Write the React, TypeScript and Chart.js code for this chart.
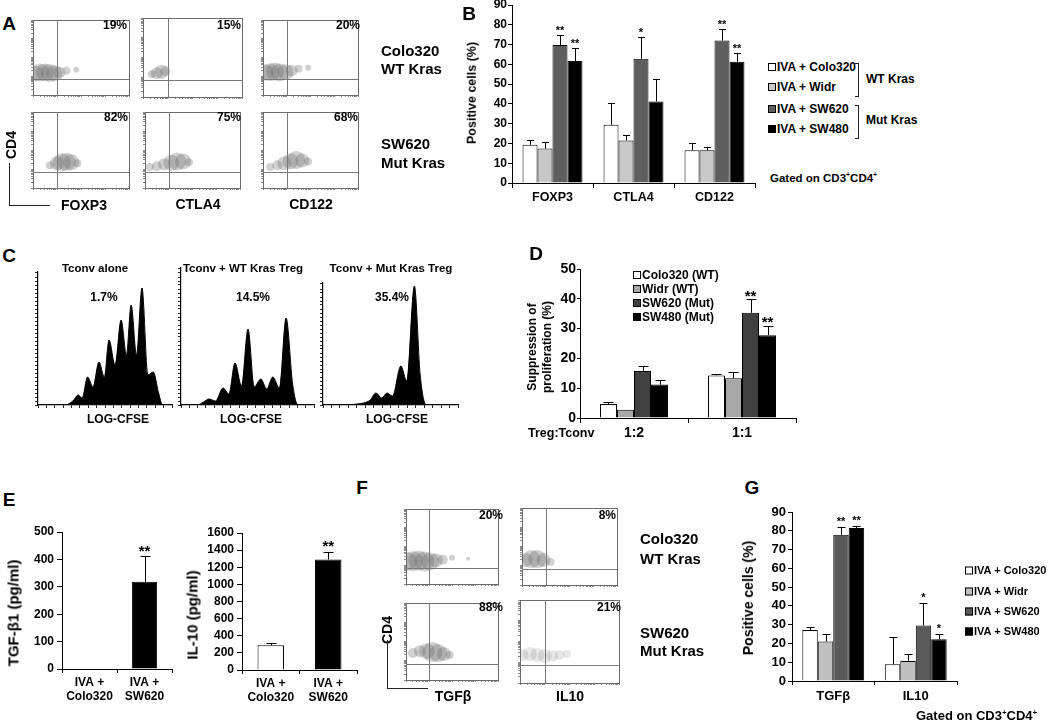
import React, { useEffect, useRef } from "react";
import { Chart, registerables } from "chart.js";
Chart.register(...registerables);

const FONT = '"Liberation Sans", Arial, Helvetica, sans-serif';
const PAD = 12;

/* ---------------- Panel A / F : flow clouds  [x decade, y decade, spread px] ---------------- */
const flowGate = [1.0, 0.85];
const aFoxp3Wt = [[0.1, 1.15, 8], [0.3, 1.2, 9], [0.5, 1.2, 9], [0.7, 1.18, 9], [0.9, 1.15, 8], [1.1, 1.2, 6], [1.4, 1.3, 4], [1.8, 1.35, 3]];
const aCtla4Wt = [[0.35, 1.15, 4], [0.55, 1.2, 6], [0.75, 1.28, 7], [0.9, 1.3, 5]];
const aCd122Wt = [[0.1, 1.2, 8], [0.3, 1.22, 9], [0.5, 1.25, 9], [0.7, 1.2, 9], [0.95, 1.22, 8], [1.2, 1.3, 6], [1.5, 1.4, 4], [1.9, 1.45, 3]];
const aFoxp3Mut = [[0.7, 1.2, 4], [1.0, 1.3, 7], [1.2, 1.35, 9], [1.4, 1.38, 9], [1.6, 1.35, 8], [1.85, 1.3, 4]];
const aCtla4Mut = [[0.2, 1.1, 4], [0.5, 1.15, 5], [0.8, 1.25, 6], [1.1, 1.32, 8], [1.35, 1.4, 9], [1.6, 1.4, 8], [1.85, 1.35, 4]];
const aCd122Mut = [[0.3, 1.1, 4], [0.6, 1.2, 5], [0.9, 1.3, 7], [1.15, 1.4, 8], [1.4, 1.48, 9], [1.65, 1.45, 7], [1.9, 1.4, 4]];
const fTgfWt = [[0.1, 1.2, 9], [0.3, 1.22, 10], [0.55, 1.25, 10], [0.8, 1.2, 10], [1.05, 1.2, 9], [1.3, 1.25, 7], [1.6, 1.3, 5], [2.0, 1.4, 3], [2.7, 1.35, 2]];
const fIl10Wt = [[0.15, 1.3, 7], [0.4, 1.35, 9], [0.65, 1.35, 9], [0.9, 1.3, 7], [1.2, 1.2, 4]];
const fTgfMut = [[0.3, 1.4, 5], [0.6, 1.5, 6], [0.9, 1.5, 8], [1.15, 1.45, 10], [1.4, 1.4, 9], [1.65, 1.35, 7], [1.9, 1.3, 4]];
const fIl10Mut = [[0.1, 1.35, 6], [0.4, 1.4, 7], [0.7, 1.35, 7], [1.0, 1.3, 7], [1.3, 1.3, 6], [1.6, 1.35, 5], [1.9, 1.4, 4]];

/* ---------------- Panel B ---------------- */
const bCategories = ["FOXP3", "CTLA4", "CD122"];
const bNames = ["IVA + Colo320", "IVA + Widr", "IVA + SW620", "IVA + SW480"];
const bColo320 = [19.4, 29.4, 16.5];
const bColo320Err = [2.5, 10.8, 3.7];
const bWidr = [17.4, 21.5, 16.5];
const bWidrErr = [3.1, 2.9, 1.5];
const bSW620 = [69.8, 62.8, 72];
const bSW620Err = [5.2, 11.2, 5.7];
const bSW480 = [61.7, 41.2, 61.3];
const bSW480Err = [6.4, 11.3, 4.3];
const bSW620Stars = ["**", "*", "**"];
const bSW480Stars = ["**", "", "**"];

/* ---------------- Panel C : CFSE histograms (x channel 0-100, count) ---------------- */
const cAloneX = [0, 20, 26, 30, 33, 37, 41, 45.5, 49.5, 53, 57.5, 62, 66, 69.5, 73.5, 77.6, 82, 86, 90, 93, 100];
const cAloneY = [0, 0, 4, 10, 7, 28, 18, 43, 28, 65, 40, 85, 50, 100, 50, 117, 30, 33, 12, 0, 0];
const cWtX = [0, 12, 17, 21, 26, 31.6, 36, 40.6, 45.5, 50.4, 55, 60, 64.5, 69, 74, 79, 84, 88, 100];
const cWtY = [0, 0, 3, 6, 4, 17, 11, 42, 19, 76, 18, 26, 16, 28, 17, 87, 20, 0, 0];
const cMutX = [0, 18, 25, 30, 35, 39.2, 43.5, 47.4, 51.5, 57.7, 62, 67.7, 72, 76.5, 100];
const cMutY = [0, 0, 1, 2, 5, 12, 7, 12, 9, 39, 24, 119, 30, 0, 0];

/* ---------------- Panel D ---------------- */
const dCategories = ["1:2", "1:1"];
const dNames = ["Colo320 (WT)", "Widr (WT)", "SW620 (Mut)", "SW480 (Mut)"];
const dColo320 = [4.7, 14.3];
const dColo320Err = [0.7, 0.6];
const dWidr = [2.8, 13.3];
const dWidrErr = [0, 2.3];
const dSW620 = [15.8, 35.3];
const dSW620Err = [1.5, 4.5];
const dSW480 = [11.2, 27.8];
const dSW480Err = [1.4, 3];
const dSW620Stars = ["", "**"];
const dSW480Stars = ["", "**"];

/* ---------------- Panel E ---------------- */
const eCategories = [["IVA +", "Colo320"], ["IVA +", "SW620"]];
const eTgf = [0, 318];
const eTgfErr = [0, 94];
const eTgfStars = ["", "**"];
const eIl10 = [290, 1290];
const eIl10Err = [20, 90];
const eIl10Stars = ["", "**"];

/* ---------------- Panel G ---------------- */
const gCategories = ["TGFβ", "IL10"];
const gColo320 = [27.2, 8.9];
const gColo320Err = [1.3, 14.5];
const gWidr = [21, 10.7];
const gWidrErr = [4, 3.5];
const gSW620 = [77.9, 29.5];
const gSW620Err = [3.9, 12];
const gSW480 = [81.5, 22.2];
const gSW480Err = [1.2, 2.7];
const gSW620Stars = ["**", "*"];
const gSW480Stars = ["**", "*"];

/* ---------------- helpers ---------------- */
type Box = { left: number; top: number; width: number; height: number };
function areaBox(x0: number, y0: number, x1: number, y1: number, yW: number, xH: number, pad: number): Box {
  return { left: x0 - yW - pad, top: y0 - pad, width: x1 - x0 + yW + 2 * pad, height: y1 - y0 + xH + 2 * pad };
}

function ChartCanvas({ b, make }: { b: Box; make: () => any }) {
  const ref = useRef<HTMLCanvasElement | null>(null);
  useEffect(() => {
    const chart = new Chart(ref.current as HTMLCanvasElement, make());
    return () => chart.destroy();
  }, []);
  return (
    <canvas
      ref={ref}
      width={b.width}
      height={b.height}
      style={{ position: "absolute", left: b.left, top: b.top, width: b.width, height: b.height }}
    />
  );
}

function barConfig(o: any) {
  const errPlugin = {
    id: "errbars",
    afterDatasetsDraw(chart: any) {
      const ctx = chart.ctx;
      const ys = chart.scales.y;
      ctx.save();
      chart.data.datasets.forEach((ds: any, di: number) => {
        const meta = chart.getDatasetMeta(di);
        meta.data.forEach((bar: any, i: number) => {
          const v = ds.data[i];
          const e = ds.err ? ds.err[i] : 0;
          const top = ys.getPixelForValue(v + e);
          const x = Math.round(bar.x) + 0.5;
          const ty = Math.round(top) + 0.5;
          if (e > 0) {
            ctx.strokeStyle = "#000";
            ctx.lineWidth = 1;
            ctx.beginPath();
            ctx.moveTo(x, bar.y);
            ctx.lineTo(x, ty);
            ctx.moveTo(x - o.cap, ty);
            ctx.lineTo(x + o.cap, ty);
            ctx.stroke();
          }
          const s = ds.stars ? ds.stars[i] : "";
          if (s) {
            ctx.fillStyle = "#000";
            ctx.font = `bold ${o.starFont}px ${FONT}`;
            ctx.textAlign = "center";
            ctx.textBaseline = "middle";
            ctx.fillText(s, bar.x, top - o.starGap + 0.27 * o.starFont);
          }
        });
      });
      ctx.restore();
    },
  };
  return {
    type: "bar",
    data: {
      labels: o.labels,
      datasets: o.series.map((s: any) => ({
        label: s.label,
        data: s.data,
        err: s.err,
        stars: s.stars,
        backgroundColor: s.color,
        borderColor: "#000",
        borderWidth: 1,
        categoryPercentage: o.catPct,
        barPercentage: 1,
      })),
    },
    options: {
      animation: false,
      responsive: false,
      maintainAspectRatio: false,
      layout: { padding: PAD },
      plugins: { legend: { display: false }, tooltip: { enabled: false } },
      scales: {
        x: {
          grid: { drawOnChartArea: false, drawTicks: true, tickLength: o.xTickLen, color: "#000" },
          border: { color: "#000", width: 1 },
          ticks: { color: "#000", font: { family: FONT, size: o.xFont, weight: "bold" }, padding: o.xPad, maxRotation: 0, autoSkip: false },
          afterFit: (s: any) => { s.height = o.xH; },
        },
        y: {
          min: 0,
          max: o.yMax,
          ticks: {
            stepSize: o.yStep, autoSkip: false, color: "#000",
            font: { family: FONT, size: o.yFont, weight: "bold" }, padding: o.yPad,
            callback: (v: any) => String(v),
          },
          grid: { drawOnChartArea: false, tickLength: o.yTickLen, color: "#000" },
          border: { color: "#000", width: 1 },
          afterFit: (s: any) => { s.width = o.yW; },
        },
      },
    },
    plugins: [errPlugin],
  };
}

function histConfig(xs: number[], ys: number[], yMax: number) {
  return {
    type: "line",
    data: {
      datasets: [{
        data: xs.map((x, i) => ({ x, y: ys[i] })),
        fill: "origin",
        backgroundColor: "#000",
        borderColor: "#000",
        borderWidth: 1,
        pointRadius: 0,
        cubicInterpolationMode: "monotone",
      }],
    },
    options: {
      animation: false,
      responsive: false,
      maintainAspectRatio: false,
      layout: { padding: 4 },
      plugins: { legend: { display: false }, tooltip: { enabled: false } },
      scales: {
        x: {
          type: "linear", min: 0, max: 100,
          ticks: { display: false, stepSize: 6.25 },
          grid: { drawOnChartArea: false, tickLength: 3, color: "#222" },
          border: { color: "#000", width: 1.2 },
          afterFit: (s: any) => { s.height = 4; },
        },
        y: {
          min: 0, max: yMax,
          ticks: { display: false, stepSize: 4 },
          grid: { drawOnChartArea: false, tickLength: 3, color: "#222" },
          border: { color: "#000", width: 1.2 },
          afterFit: (s: any) => { s.width = 4; },
        },
      },
    },
  };
}

const LOG_TICKS: number[] = (() => {
  const t: number[] = [];
  for (let d = 0; d < 4; d++) for (let k = 1; k < 10; k++) t.push(d + Math.log10(k));
  t.push(4);
  return t;
})();

function flowConfig(cloud: number[][], alpha: number) {
  const gatePlugin = {
    id: "gates",
    afterDraw(chart: any) {
      const { ctx, chartArea: a, scales } = chart;
      ctx.save();
      ctx.strokeStyle = "#6a6a6a";
      ctx.lineWidth = 1;
      ctx.strokeRect(Math.round(a.left) + 0.5, Math.round(a.top) + 0.5, Math.round(a.right - a.left), Math.round(a.bottom - a.top));
      const gx = Math.round(scales.x.getPixelForValue(flowGate[0])) + 0.5;
      const gy = Math.round(scales.y.getPixelForValue(flowGate[1])) + 0.5;
      ctx.strokeStyle = "#7a7a7a";
      ctx.beginPath();
      ctx.moveTo(gx, a.top);
      ctx.lineTo(gx, a.bottom);
      ctx.moveTo(a.left, gy);
      ctx.lineTo(a.right, gy);
      ctx.stroke();
      ctx.restore();
    },
  };
  const axis = (isX: boolean) => ({
    type: "linear", min: 0, max: 4,
    afterBuildTicks: (s: any) => { s.ticks = LOG_TICKS.map((v) => ({ value: v })); },
    ticks: { display: false },
    grid: { drawOnChartArea: false, tickLength: 2, color: "#8a8a8a" },
    border: { color: "#6a6a6a" },
    afterFit: (s: any) => { if (isX) s.height = 3; else s.width = 3; },
  });
  return {
    type: "bubble",
    data: {
      datasets: [{
        data: cloud.map((c) => ({ x: c[0], y: c[1], r: c[2] })),
        backgroundColor: `rgba(85,85,85,${alpha})`,
        borderWidth: 0,
      }],
    },
    options: {
      animation: false,
      responsive: false,
      maintainAspectRatio: false,
      layout: { padding: 4 },
      plugins: { legend: { display: false }, tooltip: { enabled: false } },
      scales: { x: axis(true), y: axis(false) },
    },
    plugins: [gatePlugin],
  };
}

function Txt({ t, x, y, s, b = true, a = "l", r = false }: any) {
  const tx = a === "l" ? "0" : a === "c" ? "-50%" : "-100%";
  return (
    <div
      style={{
        position: "absolute", left: x, top: y, fontFamily: FONT, fontSize: s,
        fontWeight: b ? "bold" : "normal", whiteSpace: "nowrap", lineHeight: 1, color: "#000",
        transform: r ? "translate(-50%,-50%) rotate(-90deg)" : `translate(${tx},-50%)`,
      }}
    >
      {t}
    </div>
  );
}

function Legend({ x, ys, labels, colors, size, sq }: any) {
  return (
    <>
      {labels.map((l: string, i: number) => (
        <div
          key={l}
          style={{
            position: "absolute", left: x, top: ys[i], transform: "translateY(-50%)", display: "flex",
            alignItems: "center", fontFamily: FONT, fontSize: size, fontWeight: "bold", whiteSpace: "nowrap", lineHeight: 1,
          }}
        >
          <span style={{ display: "inline-block", width: sq, height: sq, background: colors[i], border: "1px solid #000", boxSizing: "border-box", marginRight: 1 }} />
          {l}
        </div>
      ))}
    </>
  );
}

function Line({ x, y, w, h }: any) {
  return <div style={{ position: "absolute", left: x, top: y, width: w, height: h, background: "#222" }} />;
}

const Gated = ({ x, y, s }: any) => (
  <Txt x={x} y={y} s={s} t={<span>Gated on CD3<sup style={{ fontSize: "0.6em" }}>+</sup>CD4<sup style={{ fontSize: "0.6em" }}>+</sup></span>} />
);

/* ---------------- layout ---------------- */
const aCols = [[31, 134], [143, 245], [261, 363]];
const aRows = [[15, 97], [107, 190]];
const aClouds = [[aFoxp3Wt, aCtla4Wt, aCd122Wt], [aFoxp3Mut, aCtla4Mut, aCd122Mut]];
const fCols = [[403, 504], [520, 622]];
const fRows = [[503, 587], [597, 683]];
const fClouds = [[fTgfWt, fIl10Wt], [fTgfMut, fIl10Mut]];

const bColors = ["#ffffff", "#c8c8c8", "#5e5e5e", "#000000"];
const dColors = ["#ffffff", "#a8a8a8", "#404040", "#000000"];
const gColors = ["#ffffff", "#c0c0c0", "#5a5a5a", "#000000"];

export default function App() {
  const flows: any[] = [];
  aRows.forEach((r, ri) => aCols.forEach((c, ci) => {
    flows.push({ key: `a${ri}${ci}`, b: areaBox(c[0], r[0], c[1], r[1], 3, 3, 4), cloud: aClouds[ri][ci], alpha: 0.27 });
  }));
  fRows.forEach((r, ri) => fCols.forEach((c, ci) => {
    flows.push({ key: `f${ri}${ci}`, b: areaBox(c[0], r[0], c[1], r[1], 3, 3, 4), cloud: fClouds[ri][ci], alpha: ri === 1 && ci === 1 ? 0.14 : 0.27 });
  }));

  const hists = [
    { key: "c1", b: areaBox(38, 272, 172, 405, 4, 4, 4), xs: cAloneX, ys: cAloneY, max: 133 },
    { key: "c2", b: areaBox(181, 268, 314, 405, 4, 4, 4), xs: cWtX, ys: cWtY, max: 137 },
    { key: "c3", b: areaBox(323, 283, 458, 405, 4, 4, 4), xs: cMutX, ys: cMutY, max: 122 },
  ];

  const bConf = () => barConfig({
    labels: bCategories,
    series: [
      { label: bNames[0], data: bColo320, err: bColo320Err, color: bColors[0] },
      { label: bNames[1], data: bWidr, err: bWidrErr, color: bColors[1] },
      { label: bNames[2], data: bSW620, err: bSW620Err, stars: bSW620Stars, color: bColors[2] },
      { label: bNames[3], data: bSW480, err: bSW480Err, stars: bSW480Stars, color: bColors[3] },
    ],
    yMax: 90, yStep: 10, yFont: 12, xFont: 12.5, yTickLen: 4, yPad: 1, xTickLen: 5, xPad: 2,
    yW: 40, xH: 30, catPct: 0.74, starFont: 11, starGap: 7, cap: 3.5,
  });
  const dConf = () => barConfig({
    labels: dCategories,
    series: [
      { label: dNames[0], data: dColo320, err: dColo320Err, color: dColors[0] },
      { label: dNames[1], data: dWidr, err: dWidrErr, color: dColors[1] },
      { label: dNames[2], data: dSW620, err: dSW620Err, stars: dSW620Stars, color: dColors[2] },
      { label: dNames[3], data: dSW480, err: dSW480Err, stars: dSW480Stars, color: dColors[3] },
    ],
    yMax: 50, yStep: 10, yFont: 14, xFont: 14, yTickLen: 3, yPad: 1, xTickLen: 5, xPad: 2,
    yW: 40, xH: 30, catPct: 0.63, starFont: 15, starGap: 7, cap: 5,
  });
  const e1Conf = () => barConfig({
    labels: eCategories,
    series: [{ label: "TGF-β1", data: eTgf, err: eTgfErr, stars: eTgfStars, color: ["#ffffff", "#000000"] }],
    yMax: 500, yStep: 100, yFont: 12, xFont: 12, yTickLen: 5, yPad: 3, xTickLen: 4, xPad: 2,
    yW: 40, xH: 40, catPct: 0.46, starFont: 15, starGap: 8, cap: 5,
  });
  const e2Conf = () => barConfig({
    labels: eCategories,
    series: [{ label: "IL-10", data: eIl10, err: eIl10Err, stars: eIl10Stars, color: ["#ffffff", "#000000"] }],
    yMax: 1600, yStep: 200, yFont: 12, xFont: 12, yTickLen: 5, yPad: 3, xTickLen: 4, xPad: 2,
    yW: 40, xH: 40, catPct: 0.46, starFont: 15, starGap: 9, cap: 5,
  });
  const gConf = () => barConfig({
    labels: gCategories,
    series: [
      { label: bNames[0], data: gColo320, err: gColo320Err, color: gColors[0] },
      { label: bNames[1], data: gWidr, err: gWidrErr, color: gColors[1] },
      { label: bNames[2], data: gSW620, err: gSW620Err, stars: gSW620Stars, color: gColors[2] },
      { label: bNames[3], data: gSW480, err: gSW480Err, stars: gSW480Stars, color: gColors[3] },
    ],
    yMax: 90, yStep: 10, yFont: 13, xFont: 13, yTickLen: 4, yPad: 2, xTickLen: 4, xPad: 4,
    yW: 40, xH: 30, catPct: 0.75, starFont: 11, starGap: 8, cap: 4,
  });

  return (
    <div style={{ position: "absolute", left: 0, top: 0, width: 1050, height: 723, background: "#fff", overflow: "hidden" }}>
      {flows.map((f) => <ChartCanvas key={f.key} b={f.b} make={() => flowConfig(f.cloud, f.alpha)} />)}
      {hists.map((h) => <ChartCanvas key={h.key} b={h.b} make={() => histConfig(h.xs, h.ys, h.max)} />)}
      <ChartCanvas b={areaBox(512, 5, 755, 183, 40, 30, PAD)} make={bConf} />
      <ChartCanvas b={areaBox(580, 269, 796, 418, 40, 30, PAD)} make={dConf} />
      <ChartCanvas b={areaBox(62, 532, 172, 669, 40, 40, PAD)} make={e1Conf} />
      <ChartCanvas b={areaBox(242, 533, 357, 670, 40, 40, PAD)} make={e2Conf} />
      <ChartCanvas b={areaBox(792, 512, 957, 681, 40, 30, PAD)} make={gConf} />

      {/* panel letters */}
      <Txt t="A" x={9} y={23} s={19} a="c" />
      <Txt t="B" x={469} y={13} s={19} a="c" />
      <Txt t="C" x={9} y={255} s={19} a="c" />
      <Txt t="D" x={536} y={253} s={19} a="c" />
      <Txt t="E" x={9} y={499} s={19} a="c" />
      <Txt t="F" x={362} y={487} s={19} a="c" />
      <Txt t="G" x={752} y={487} s={19} a="c" />

      {/* panel A text */}
      <Txt t="19%" x={127} y={25} s={12} a="r" />
      <Txt t="15%" x={241} y={25} s={12} a="r" />
      <Txt t="20%" x={360} y={25} s={12} a="r" />
      <Txt t="82%" x={128} y={117} s={12} a="r" />
      <Txt t="75%" x={241} y={117} s={12} a="r" />
      <Txt t="68%" x={358} y={117} s={12} a="r" />
      <Txt t="Colo320" x={381} y={50} s={15} />
      <Txt t="WT Kras" x={381} y={68} s={15} />
      <Txt t="SW620" x={381} y={143} s={15} />
      <Txt t="Mut Kras" x={381} y={162} s={15} />
      <Txt t="CD4" x={11} y={145} s={14} r />
      <Line x={9} y={163} w={1} h={42} />
      <Line x={9} y={205} w={41} h={1} />
      <Txt t="FOXP3" x={84} y={205} s={14} a="c" />
      <Txt t="CTLA4" x={198} y={204} s={14} a="c" />
      <Txt t="CD122" x={311} y={204} s={14} a="c" />

      {/* panel B text */}
      <Txt t="Positive cells (%)" x={472} y={93} s={12.5} r />
      <Legend x={768} ys={[67, 87, 109, 129]} labels={bNames} colors={bColors} size={12} sq={8} />
      <Line x={858} y={63} w={1} h={34} />
      <Line x={855} y={63} w={3} h={1} />
      <Line x={855} y={96} w={3} h={1} />
      <Line x={858} y={105} w={1} h={34} />
      <Line x={855} y={105} w={3} h={1} />
      <Line x={855} y={138} w={3} h={1} />
      <Txt t="WT Kras" x={866} y={79} s={12} />
      <Txt t="Mut Kras" x={866} y={120} s={12} />
      <Gated x={770} y={178} s={11.5} />

      {/* panel C text */}
      <Txt t="Tconv  alone" x={95} y={269} s={11.5} a="c" />
      <Txt t="Tconv  + WT Kras Treg" x={243} y={269} s={11.5} a="c" />
      <Txt t="Tconv  + Mut Kras Treg" x={391} y={269} s={11.5} a="c" />
      <Txt t="1.7%" x={104} y={297} s={12} a="c" />
      <Txt t="14.5%" x={253} y={297} s={12} a="c" />
      <Txt t="35.4%" x={392} y={297} s={12} a="c" />
      <Txt t="LOG-CFSE" x={118} y={419} s={12} a="c" />
      <Txt t="LOG-CFSE" x={251} y={419} s={12} a="c" />
      <Txt t="LOG-CFSE" x={397} y={419} s={12} a="c" />

      {/* panel D text */}
      <Txt t="Suppression of" x={532} y={347} s={12} r />
      <Txt t="proliferation (%)" x={547} y={347} s={12} r />
      <Legend x={633} ys={[275, 289, 303, 317]} labels={dNames} colors={dColors} size={12} sq={8} />
      <Txt t="Treg:Tconv" x={528} y={433} s={12.5} />

      {/* panel E text */}
      <Txt t="TGF-β1 (pg/ml)" x={13} y={613} s={15} r />
      <Txt t="IL-10 (pg/ml)" x={192} y={615} s={15} r />

      {/* panel F text */}
      <Txt t="20%" x={503} y={515} s={12} a="r" />
      <Txt t="8%" x={616} y={515} s={12} a="r" />
      <Txt t="88%" x={503} y={607} s={12} a="r" />
      <Txt t="21%" x={621} y={607} s={12} a="r" />
      <Txt t="Colo320" x={640} y={538} s={15} />
      <Txt t="WT Kras" x={640} y={558} s={15} />
      <Txt t="SW620" x={640} y={632} s={15} />
      <Txt t="Mut Kras" x={640} y={650} s={15} />
      <Txt t="CD4" x={387} y={630} s={14} r />
      <Line x={387} y={640} w={1} h={48} />
      <Line x={387} y={688} w={41} h={1} />
      <Txt t="TGFβ" x={453} y={696} s={14} a="c" />
      <Txt t="IL10" x={570} y={696} s={14} a="c" />

      {/* panel G text */}
      <Txt t="Positive cells (%)" x={748} y={598} s={14} r />
      <Legend x={965} ys={[570, 591, 611, 631]} labels={bNames} colors={gColors} size={11} sq={8} />
      <Gated x={916} y={716} s={13} />
    </div>
  );
}
